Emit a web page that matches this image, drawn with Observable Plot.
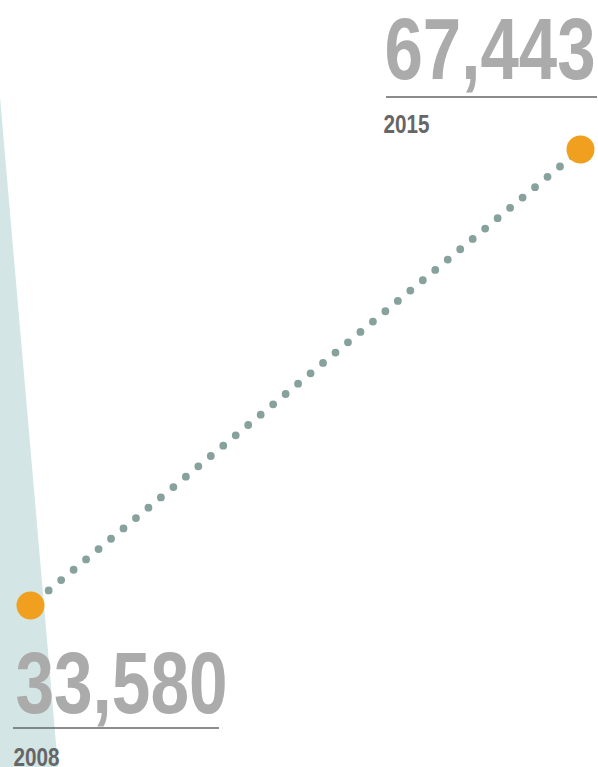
<!DOCTYPE html>
<html>
<head>
<meta charset="utf-8">
<script src="https://cdn.jsdelivr.net/npm/d3@7"></script>
<script src="https://cdn.jsdelivr.net/npm/@observablehq/plot@0.6"></script>
<style>
  html, body { margin: 0; padding: 0; background: #fff; }
  #chart svg { display: block; }
</style>
</head>
<body>
<div id="chart"></div>
<script>
const years = [2008, 2015];
const values = [33580, 67443];
const valueLabels = ["33,580", "67,443"];
const yearLabels = ["2008", "2015"];

const pts = years.map((y, i) => ({year: y, value: values[i], label: valueLabels[i], ylabel: yearLabels[i]}));
const first = pts[0], last = pts[1];

const numFont = "'Liberation Sans', Arial, sans-serif";

// decorative teal wedge on the left
const band = (index, {x, y}, values, {width, height}) => {
  const g = d3.create("svg:g");
  const yTop = y(last.value) - 52;
  const xBot = x(first.year) + 28;
  g.append("polygon")
    .attr("points", `0,${yTop} ${xBot},${height} 0,${height}`)
    .attr("fill", "#d3e6e5");
  return g.node();
};

// underlines below the large numbers
const underlines = (index, {x, y}) => {
  const g = d3.create("svg:g").attr("stroke", "#666").attr("stroke-width", 1.6);
  const xl = x(last.year), yl = y(last.value);
  g.append("line").attr("x1", xl - 194).attr("x2", xl + 17).attr("y1", yl - 52).attr("y2", yl - 52);
  const xf = x(first.year), yf = y(first.value);
  g.append("line").attr("x1", xf - 17).attr("x2", xf + 189).attr("y1", yf + 123).attr("y2", yf + 123);
  return g.node();
};

const plot = Plot.plot({
  width: 598,
  height: 767,
  marginLeft: 30,
  marginRight: 18,
  marginTop: 149,
  marginBottom: 162,
  x: {type: "linear", domain: [2008, 2015], axis: null},
  y: {type: "linear", domain: [33580, 67443], axis: null},
  style: {background: "#fff", overflow: "visible"},
  marks: [
    band,
    Plot.line(pts, {
      x: "year", y: "value",
      stroke: "#87a19c", strokeWidth: 7.8,
      strokeDasharray: "0 16.2", strokeDashoffset: -7.4,
      strokeLinecap: "round"
    }),
    Plot.dot(pts, {x: "year", y: "value", r: 14, fill: "#f0a01e", stroke: "none"}),
    underlines,
    Plot.text([last], {x: "year", y: "value", text: "label", textAnchor: "end", lineAnchor: "bottom",
      dx: 15, dy: -71, fontSize: 88, fontWeight: "bold", fill: "#ababab", fontFamily: numFont}),
    Plot.text([last], {x: "year", y: "value", text: "ylabel", textAnchor: "start", lineAnchor: "bottom",
      dx: -197, dy: -17, fontSize: 25, fontWeight: "bold", fill: "#666", fontFamily: numFont}),
    Plot.text([first], {x: "year", y: "value", text: "label", textAnchor: "start", lineAnchor: "bottom",
      dx: -15, dy: 107, fontSize: 88, fontWeight: "bold", fill: "#ababab", fontFamily: numFont}),
    Plot.text([first], {x: "year", y: "value", text: "ylabel", textAnchor: "start", lineAnchor: "bottom",
      dx: -17, dy: 160, fontSize: 25, fontWeight: "bold", fill: "#666", fontFamily: numFont})
  ]
});

// condensed look: squeeze each label to the width it has in the original
const squeeze = {"67,443": 211, "33,580": 212, "2015": 46, "2008": 46};
d3.select(plot).selectAll("text").each(function() {
  const w = squeeze[this.textContent.trim()];
  if (w) d3.select(this).attr("textLength", w).attr("lengthAdjust", "spacingAndGlyphs");
});
document.getElementById("chart").appendChild(plot);
</script>
</body>
</html>
